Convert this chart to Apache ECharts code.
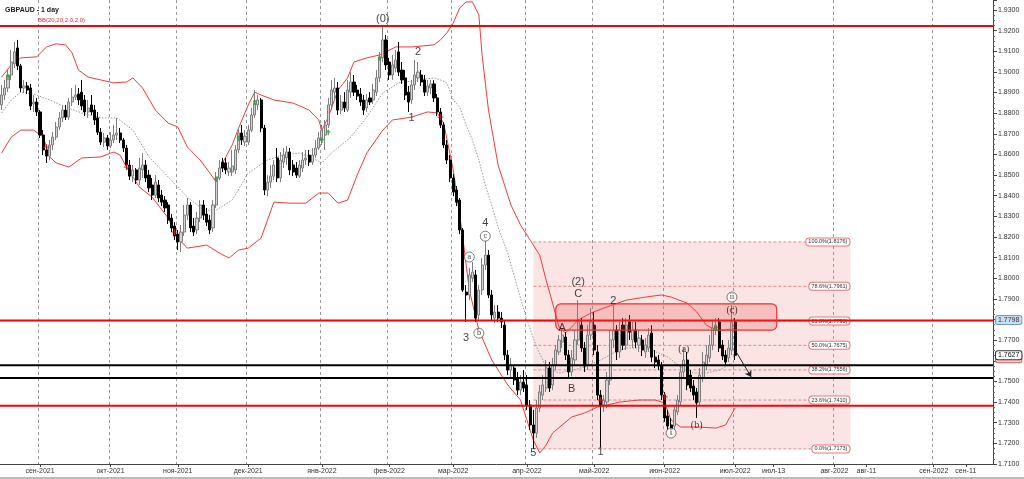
<!DOCTYPE html>
<html><head><meta charset="utf-8">
<script src="https://cdn.jsdelivr.net/npm/echarts@6/dist/echarts.min.js"></script>
<style>html,body{margin:0;padding:0;background:#fff}#c{width:1024px;height:479px}</style>
</head><body><div id="c"></div>
<script>
// ---------- DATA ----------
// daily candles from 2021-08-16 (trading days), [open, close, low, high]
const candles = [
[1.8840,1.8888,1.8815,1.8937],[1.8888,1.8922,1.8864,1.8961],[1.8922,1.8985,1.8902,1.9009],[1.8985,1.9048,1.8961,1.9106],[1.9039,1.9097,1.9019,1.9145],
[1.9116,1.9029,1.9009,1.9155],[1.9029,1.8922,1.8902,1.9039],[1.8922,1.8932,1.8898,1.8961],[1.8932,1.8912,1.8893,1.8951],[1.8922,1.8835,1.8815,1.8942],
[1.8845,1.8854,1.8806,1.8888],[1.8854,1.8806,1.8786,1.8874],[1.8806,1.8694,1.8680,1.8815],[1.8694,1.8622,1.8597,1.8718],[1.8622,1.8592,1.8559,1.8646],
[1.8592,1.8646,1.8573,1.8670],[1.8646,1.8684,1.8622,1.8708],[1.8684,1.8733,1.8670,1.8757],[1.8733,1.8777,1.8718,1.8806],[1.8777,1.8815,1.8757,1.8840],
[1.8815,1.8781,1.8767,1.8840],[1.8781,1.8854,1.8767,1.8874],[1.8854,1.8878,1.8835,1.8922],[1.8878,1.8888,1.8864,1.8937],[1.8893,1.8864,1.8840,1.8922],
[1.8902,1.8835,1.8815,1.8961],[1.8864,1.8806,1.8786,1.8888],[1.8806,1.8825,1.8777,1.8864],[1.8840,1.8806,1.8791,1.8888],[1.8815,1.8767,1.8743,1.8840],
[1.8777,1.8708,1.8694,1.8806],[1.8708,1.8660,1.8646,1.8728],[1.8660,1.8680,1.8636,1.8704],[1.8680,1.8641,1.8622,1.8694],[1.8641,1.8670,1.8631,1.8708],
[1.8670,1.8694,1.8655,1.8743],[1.8694,1.8704,1.8670,1.8777],[1.8704,1.8670,1.8655,1.8728],[1.8670,1.8631,1.8612,1.8680],[1.8631,1.8549,1.8525,1.8646],
[1.8549,1.8495,1.8476,1.8573],[1.8495,1.8525,1.8466,1.8549],[1.8525,1.8476,1.8457,1.8534],[1.8476,1.8534,1.8452,1.8583],[1.8525,1.8549,1.8486,1.8607],
[1.8549,1.8486,1.8466,1.8573],[1.8500,1.8438,1.8418,1.8525],[1.8452,1.8403,1.8379,1.8486],[1.8403,1.8466,1.8389,1.8500],[1.8452,1.8389,1.8369,1.8476],
[1.8403,1.8369,1.8350,1.8428],[1.8379,1.8341,1.8321,1.8398],[1.8355,1.8282,1.8263,1.8369],[1.8292,1.8244,1.8224,1.8311],[1.8253,1.8205,1.8185,1.8272],
[1.8214,1.8176,1.8137,1.8234],[1.8176,1.8224,1.8127,1.8258],[1.8224,1.8306,1.8205,1.8355],[1.8306,1.8355,1.8282,1.8389],[1.8355,1.8244,1.8224,1.8369],
[1.8253,1.8224,1.8205,1.8292],[1.8234,1.8292,1.8214,1.8321],[1.8292,1.8355,1.8272,1.8379],[1.8355,1.8306,1.8282,1.8379],[1.8311,1.8272,1.8253,1.8341],
[1.8282,1.8234,1.8214,1.8306],[1.8244,1.8355,1.8224,1.8379],[1.8355,1.8486,1.8341,1.8515],[1.8486,1.8534,1.8476,1.8573],[1.8563,1.8534,1.8515,1.8583],
[1.8559,1.8525,1.8505,1.8583],[1.8515,1.8534,1.8495,1.8563],[1.8515,1.8544,1.8495,1.8622],[1.8525,1.8622,1.8505,1.8646],[1.8622,1.8704,1.8607,1.8728],
[1.8704,1.8670,1.8646,1.8743],[1.8660,1.8689,1.8641,1.8718],[1.8660,1.8718,1.8646,1.8743],[1.8718,1.8791,1.8708,1.8825],[1.8791,1.8849,1.8777,1.8912],
[1.8840,1.8864,1.8815,1.8888],[1.8864,1.8728,1.8708,1.8874],[1.8728,1.8428,1.8403,1.8743],[1.8428,1.8466,1.8398,1.8500],[1.8466,1.8495,1.8438,1.8549],
[1.8495,1.8549,1.8476,1.8573],[1.8583,1.8486,1.8466,1.8631],[1.8486,1.8573,1.8466,1.8612],[1.8563,1.8597,1.8534,1.8631],[1.8583,1.8612,1.8549,1.8641],
[1.8612,1.8525,1.8500,1.8631],[1.8549,1.8515,1.8495,1.8573],[1.8534,1.8500,1.8486,1.8563],[1.8495,1.8549,1.8486,1.8573],[1.8534,1.8573,1.8515,1.8612],
[1.8573,1.8583,1.8549,1.8622],[1.8597,1.8563,1.8544,1.8622],[1.8563,1.8597,1.8549,1.8631],[1.8597,1.8631,1.8583,1.8670],[1.8631,1.8680,1.8622,1.8708],
[1.8670,1.8718,1.8646,1.8743],[1.8694,1.8743,1.8622,1.8767],[1.8743,1.8840,1.8728,1.8874],[1.8840,1.8912,1.8815,1.8961],[1.8902,1.8922,1.8864,1.8971],
[1.8922,1.8815,1.8791,1.8951],[1.8815,1.8854,1.8796,1.8888],[1.8854,1.8825,1.8806,1.8902],[1.8815,1.8912,1.8806,1.8961],[1.8902,1.8951,1.8874,1.8999],
[1.8951,1.8902,1.8883,1.8985],[1.8912,1.8883,1.8864,1.8937],[1.8893,1.8854,1.8835,1.8922],[1.8864,1.8815,1.8791,1.8888],[1.8825,1.8864,1.8806,1.8893],
[1.8874,1.8854,1.8840,1.8902],[1.8864,1.8912,1.8845,1.8942],[1.8902,1.8971,1.8883,1.9009],[1.8971,1.9068,1.8951,1.9097],[1.9068,1.9155,1.9048,1.9217],
[1.9155,1.9034,1.9009,1.9179],[1.9048,1.8985,1.8961,1.9068],[1.8985,1.9034,1.8961,1.9082],[1.9019,1.9058,1.8999,1.9106],[1.9097,1.8999,1.8980,1.9145],
[1.9009,1.8961,1.8942,1.9048],[1.8971,1.8888,1.8864,1.9009],[1.8902,1.8854,1.8806,1.8932],[1.8864,1.8937,1.8845,1.8961],[1.8937,1.8985,1.8912,1.9058],
[1.8971,1.8999,1.8951,1.9048],[1.8985,1.8951,1.8932,1.9009],[1.8961,1.8902,1.8883,1.8985],[1.8902,1.8932,1.8883,1.8961],[1.8922,1.8942,1.8893,1.8961],
[1.8942,1.8874,1.8854,1.8961],[1.8874,1.8806,1.8786,1.8893],[1.8806,1.8743,1.8728,1.8825],[1.8743,1.8646,1.8631,1.8757],[1.8646,1.8573,1.8554,1.8670],
[1.8573,1.8486,1.8466,1.8597],[1.8486,1.8418,1.8398,1.8505],[1.8428,1.8369,1.8350,1.8447],[1.8379,1.8234,1.8214,1.8389],[1.8234,1.7943,1.7933,1.8244],
[1.7933,1.7919,1.7788,1.7967],[1.7919,1.8016,1.7894,1.8050],[1.8001,1.8030,1.7982,1.8079],[1.8016,1.7807,1.7788,1.8040],[1.7822,1.7943,1.7798,1.7967],
[1.7943,1.8064,1.7919,1.8098],[1.8064,1.8112,1.8040,1.8185],[1.8112,1.7919,1.7904,1.8137],[1.7919,1.7822,1.7798,1.7943],[1.7807,1.7836,1.7783,1.7870],
[1.7836,1.7807,1.7788,1.7870],[1.7807,1.7788,1.7759,1.7836],[1.7773,1.7628,1.7604,1.7798],[1.7628,1.7555,1.7531,1.7652],[1.7555,1.7580,1.7516,1.7614],
[1.7565,1.7507,1.7483,1.7580],[1.7516,1.7458,1.7434,1.7546],[1.7458,1.7497,1.7434,1.7531],[1.7497,1.7468,1.7449,1.7555],[1.7483,1.7386,1.7362,1.7531],
[1.7386,1.7289,1.7265,1.7410],[1.7289,1.7250,1.7173,1.7362],[1.7250,1.7371,1.7226,1.7410],[1.7371,1.7449,1.7352,1.7483],[1.7434,1.7483,1.7410,1.7531],
[1.7468,1.7565,1.7449,1.7604],[1.7565,1.7468,1.7449,1.7594],[1.7483,1.7580,1.7458,1.7614],[1.7580,1.7652,1.7555,1.7676],[1.7643,1.7701,1.7628,1.7725],
[1.7691,1.7725,1.7662,1.7759],[1.7715,1.7628,1.7604,1.7739],[1.7628,1.7546,1.7516,1.7652],[1.7546,1.7614,1.7526,1.7652],[1.7604,1.7701,1.7580,1.7749],
[1.7701,1.7788,1.7676,1.7894],[1.7773,1.7662,1.7643,1.7807],[1.7662,1.7575,1.7546,1.7691],[1.7580,1.7725,1.7555,1.7773],[1.7725,1.7788,1.7701,1.7856],
[1.7773,1.7652,1.7628,1.7836],[1.7643,1.7434,1.7410,1.7676],[1.7434,1.7386,1.7182,1.7458],[1.7386,1.7410,1.7352,1.7434],[1.7400,1.7507,1.7371,1.7546],
[1.7507,1.7701,1.7483,1.7749],[1.7701,1.7749,1.7662,1.7870],[1.7749,1.7643,1.7604,1.7773],[1.7643,1.7749,1.7614,1.7788],[1.7773,1.7676,1.7652,1.7807],
[1.7676,1.7773,1.7652,1.7807],[1.7788,1.7739,1.7701,1.7822],[1.7701,1.7749,1.7662,1.7788],[1.7749,1.7691,1.7662,1.7788],[1.7676,1.7710,1.7643,1.7749],
[1.7701,1.7652,1.7623,1.7725],[1.7643,1.7676,1.7614,1.7710],[1.7662,1.7725,1.7643,1.7759],[1.7734,1.7618,1.7594,1.7773],[1.7618,1.7594,1.7565,1.7652],
[1.7604,1.7575,1.7555,1.7628],[1.7575,1.7434,1.7410,1.7594],[1.7434,1.7323,1.7304,1.7449],[1.7333,1.7284,1.7265,1.7362],[1.7289,1.7265,1.7245,1.7323],
[1.7284,1.7362,1.7265,1.7386],[1.7352,1.7410,1.7337,1.7434],[1.7400,1.7546,1.7386,1.7580],[1.7546,1.7604,1.7516,1.7662],[1.7604,1.7483,1.7458,1.7643],
[1.7531,1.7468,1.7449,1.7555],[1.7478,1.7434,1.7410,1.7507],[1.7449,1.7396,1.7323,1.7468],[1.7400,1.7531,1.7386,1.7565],[1.7516,1.7594,1.7497,1.7643],
[1.7580,1.7628,1.7555,1.7676],[1.7614,1.7676,1.7594,1.7725],[1.7676,1.7759,1.7652,1.7798],[1.7749,1.7773,1.7725,1.7807],[1.7788,1.7662,1.7643,1.7807],
[1.7676,1.7623,1.7604,1.7701],[1.7628,1.7594,1.7575,1.7652],[1.7614,1.7662,1.7594,1.7701],[1.7652,1.7788,1.7628,1.7870],[1.7788,1.7627,1.7604,1.7807]
];

// Bollinger band readings: [bar index, value]
const bbUpper = [[0,1.8975],[3,1.9034],[6,1.9068],[11,1.9073],[14,1.9121],[17,1.9136],[20,1.9131],[22,1.9092],[24,1.9009],[27,1.8975],[31,1.8961],[35,1.8947],[39,1.8951],[41,1.8971],[44,1.8922],[48,1.8815],[52,1.8752],[55,1.8733],[58,1.8636],[62,1.8573],[65,1.8510],[67,1.8466],[69,1.8559],[72,1.8646],[74,1.8728],[77,1.8840],[79,1.8902],[81,1.8888],[85,1.8864],[91,1.8849],[96,1.8815],[99,1.8767],[100,1.8718],[102,1.8781],[105,1.8912],[108,1.8971],[110,1.9048],[114,1.9068],[118,1.9082],[120,1.9097],[123,1.9121],[128,1.9121],[135,1.9131],[137,1.9155],[139,1.9189],[141,1.9237],[143,1.9310],[145,1.9339],[147,1.9339],[149,1.9276],[150,1.9082],[152,1.8815],[155,1.8549],[159,1.8355],[162,1.8258],[165,1.8185],[168,1.8112],[170,1.7991],[172,1.7880],[174,1.7764],[176,1.7735],[178,1.7764],[180,1.7798],[184,1.7832],[189,1.7861],[195,1.7894],[201,1.7909],[206,1.7919],[209,1.7909],[214,1.7880],[217,1.7837],[220,1.7773],[223,1.7749],[226,1.7749],[229,1.7759]];
const bbMiddle = [[0,1.8801],[3,1.8864],[6,1.8902],[10,1.8893],[15,1.8864],[20,1.8830],[25,1.8801],[31,1.8777],[36,1.8777],[41,1.8718],[46,1.8588],[52,1.8491],[58,1.8393],[62,1.8345],[66,1.8321],[72,1.8379],[77,1.8510],[83,1.8573],[88,1.8597],[93,1.8607],[97,1.8583],[100,1.8559],[103,1.8607],[109,1.8684],[114,1.8781],[119,1.8898],[124,1.8947],[130,1.8961],[135,1.8971],[137,1.8961],[139,1.8947],[141,1.8864],[143,1.8830],[145,1.8743],[147,1.8670],[149,1.8573],[151,1.8452],[153,1.8355],[155,1.8248],[158,1.8122],[161,1.7957],[164,1.7798],[167,1.7667],[170,1.7570],[174,1.7541],[178,1.7555],[182,1.7570],[187,1.7604],[191,1.7638],[195,1.7662],[199,1.7662],[203,1.7652],[208,1.7618],[212,1.7570],[216,1.7541],[220,1.7541],[224,1.7555],[228,1.7589]];
const bbLower = [[0,1.8607],[3,1.8684],[6,1.8718],[10,1.8718],[13,1.8684],[15,1.8588],[17,1.8559],[21,1.8539],[25,1.8583],[31,1.8588],[35,1.8612],[37,1.8597],[39,1.8539],[43,1.8442],[47,1.8393],[52,1.8292],[55,1.8195],[58,1.8146],[64,1.8161],[68,1.8122],[71,1.8098],[74,1.8137],[77,1.8146],[81,1.8195],[85,1.8369],[90,1.8364],[95,1.8364],[99,1.8413],[102,1.8413],[105,1.8364],[108,1.8379],[111,1.8500],[114,1.8607],[119,1.8718],[122,1.8767],[128,1.8781],[133,1.8806],[136,1.8801],[138,1.8752],[141,1.8525],[144,1.8195],[146,1.7943],[149,1.7749],[153,1.7604],[158,1.7483],[162,1.7410],[166,1.7216],[168,1.7153],[170,1.7192],[172,1.7250],[178,1.7328],[182,1.7347],[186,1.7376],[189,1.7386],[193,1.7400],[199,1.7410],[204,1.7410],[207,1.7396],[209,1.7313],[212,1.7279],[218,1.7279],[223,1.7274],[226,1.7289],[229,1.7371]];

// x-axis tick labels
const tickLabels = [['2021-09-01','сен-2021'],['2021-10-01','окт-2021'],['2021-11-01','ноя-2021'],['2021-12-01','дек-2021'],['2022-01-03','янв-2022'],['2022-02-01','фев-2022'],['2022-03-01','мар-2022'],['2022-04-01','апр-2022'],['2022-05-02','май-2022'],['2022-06-01','июн-2022'],['2022-07-01','июл-2022'],['2022-07-13','июл-13'],['2022-08-01','авг-2022'],['2022-08-11','авг-11'],['2022-09-01','сен-2022'],['2022-09-11','сен-11']];

// horizontal levels
const redLevels = [1.9222, 1.7795, 1.7382];
const blackLevels = [1.7578, 1.7517];
// Fibonacci retracement
const fibLevels = [[100.0,1.8176],[78.6,1.7961],[61.8,1.7793],[50.0,1.7675],[38.2,1.7556],[23.6,1.7410],[0.0,1.7173]];
const fibStart = '2022-04-05', fibEnd = '2022-08-06';
// resistance zone
const zoneStart = '2022-04-14', zoneEnd = '2022-07-14', zoneLow = 1.7749, zoneHigh = 1.7876;
// projection arrow [date, price]
const arrowFrom = ['2022-07-01', 1.7652], arrowTo = ['2022-07-06', 1.7522];
// price tags on right axis
const tagBlue = 1.7798, tagPink = 1.7613;
// wave labels [bar index, price, text]
const waveSans = [[119,1.9256,'(0)'],[130,1.9097,'2'],[128,1.8779,'1'],[145,1.7711,'3'],[151,1.8268,'4'],[166,1.7153,'5'],[175,1.7759,'A'],[178,1.7463,'B'],[180,1.7924,'C'],[180,1.7982,'(2)'],[191,1.7890,'2'],[187,1.7158,'1']];
const waveSerif = [[213,1.7657,'(a)'],[217,1.7289,'(b)'],[228,1.7846,'(c)']];
const waveCircled = [[146,1.8103,'a'],[149,1.7734,'b'],[151,1.8204,'c'],[209,1.7250,'i'],[228,1.7909,'ii']];
// band-touch markers [bar index, price]
const greenMarks = [[2,1.8975],[67,1.8481],[74,1.8680],[79,1.8854],[100,1.8670],[102,1.8708],[118,1.9068],[223,1.7759]];
const redMarks = [[14,1.8636],[39,1.8539],[54,1.8224],[137,1.8781],[187,1.7410],[207,1.7425]];

// ---------- CATEGORIES ----------
function fmt(d){ return d.toISOString().slice(0,10); }
const dates = [];
let d = new Date(Date.UTC(2021,7,16));
const lastBar = Date.UTC(2022,6,1);
while (d.getTime() <= lastBar) { const wd = d.getUTCDay(); if (wd !== 0 && wd !== 6) dates.push(fmt(d)); d = new Date(d.getTime()+86400000); }
while (dates.length < 310) { dates.push(fmt(d)); d = new Date(d.getTime()+86400000); }
const idx = s => dates.indexOf(s);
const labelMap = new Map(tickLabels);
const monthSet = new Set(tickLabels.filter(t => t[1].indexOf('-20') > 0).map(t => t[0]));
const lastClose = candles[candles.length-1][1];

const FONT = 'Liberation Sans';

function hLineSeries(levels, color, z){
  return { type:'custom', z:z, silent:true, data: levels.map(v => [0, v]), encode:{x:0, y:1},
    renderItem:(params, api) => { const cs = params.coordSys; const y = api.coord([0, api.value(1)])[1];
      return {type:'line', shape:{x1:cs.x, y1:y, x2:cs.x+cs.width, y2:y}, style:{stroke:color, lineWidth:2}}; } };
}
const tagStyles = [
  {fill:'#f6c8c8', stroke:'#dd6060', text:'#333'},
  {fill:'#c8ddf0', stroke:'#6f9cc4', text:'#333'},
  {fill:'#ffffff', stroke:'#333333', text:'#111'}
];
const tagValues = [tagPink, tagBlue, lastClose];

const option = {
  animation:false,
  textStyle:{fontFamily:FONT},
  title:[
    {text:'GBPAUD - 1 day', left:0, top:2, textStyle:{fontSize:7, fontWeight:'bold', color:'#222', fontFamily:FONT}},
    {text:'BB(20,20,2.0,2.0)', left:33, top:12, textStyle:{fontSize:6, fontWeight:'normal', color:'#e03030', fontFamily:FONT}}
  ],
  grid:{left:0, right:31, top:0, bottom:15, containLabel:false},
  xAxis:{
    type:'category', data:dates, boundaryGap:true,
    axisLine:{show:true, lineStyle:{color:'#444'}},
    axisTick:{show:true, alignWithLabel:true, length:3, interval:(i,v)=>labelMap.has(v), lineStyle:{color:'#444'}},
    axisLabel:{interval:(i,v)=>labelMap.has(v), formatter:v=>labelMap.get(v)||'', fontSize:7, color:'#333', margin:4, fontFamily:FONT},
    splitLine:{show:true, interval:(i,v)=>monthSet.has(v), lineStyle:{type:[3,3], color:'#9a9a9a', width:1}}
  },
  yAxis:{
    type:'value', position:'right', min:1.71, max:1.93485, interval:0.01,
    axisLine:{show:true, lineStyle:{color:'#444'}},
    axisTick:{show:true, length:4, lineStyle:{color:'#444'}},
    minorTick:{show:true, splitNumber:4, length:2, lineStyle:{color:'#666'}},
    axisLabel:{formatter:v=>v.toFixed(4), fontSize:7, color:'#333', showMaxLabel:false, margin:5, fontFamily:FONT},
    splitLine:{show:false}
  },
  series:[
    { // fib background
      type:'custom', z:1, silent:true, encode:{x:[0,1], y:[2,3]},
      data:[[idx(fibStart), idx(fibEnd), fibLevels[fibLevels.length-1][1], fibLevels[0][1]]],
      renderItem:(params, api) => { const a = api.coord([api.value(0), api.value(3)]); const b = api.coord([api.value(1), api.value(2)]);
        return {type:'rect', shape:{x:a[0], y:a[1], width:b[0]-a[0], height:b[1]-a[1]}, style:{fill:'rgba(230,120,120,0.2)'}}; }
    },
    { // fib level lines
      type:'custom', z:2, silent:true, encode:{x:[0,1], y:2},
      data: fibLevels.map(f => [idx(fibStart), idx(fibEnd), f[1]]),
      renderItem:(params, api) => { const lv = api.value(2); const a = api.coord([api.value(0), lv]); const b = api.coord([api.value(1), lv]);
        const f = fibLevels[params.dataIndex];
        return {type:'group', children:[
          {type:'line', shape:{x1:a[0], y1:a[1], x2:b[0], y2:b[1]}, style:{stroke:'#e48a8a', lineWidth:1, lineDash:[3,2]}},
          {type:'text', x:b[0]-1, y:a[1], z2:10, style:{text: f[0].toFixed(1)+'%('+f[1].toFixed(4)+')', fontSize:5.5, fontFamily:FONT, fill:'#333', align:'right', verticalAlign:'middle', backgroundColor:'#ffffff', borderColor:'#e07a7a', borderWidth:1, borderRadius:3, padding:[1,2,0,2]}}
        ]}; }
    },
    {type:'line', z:3, name:'upper', data:bbUpper.map(p=>[dates[p[0]], p[1]]), showSymbol:false, symbol:'none', clip:false, lineStyle:{color:'#f03a3a', width:1}, silent:true},
    {type:'line', z:3, name:'middle', data:bbMiddle.map(p=>[dates[p[0]], p[1]]), showSymbol:false, symbol:'none', lineStyle:{color:'#8c9c98', width:1, type:[1.5,1.5]}, silent:true},
    {type:'line', z:3, name:'lower', data:bbLower.map(p=>[dates[p[0]], p[1]]), showSymbol:false, symbol:'none', lineStyle:{color:'#f03a3a', width:1}, silent:true},
    {
      type:'candlestick', z:4, data:candles, barWidth:2.6,
      itemStyle:{color:'#d4d4d4', color0:'#000000', borderColor:'#7e7e7e', borderColor0:'#000000', borderWidth:1}
    },
    hLineSeries(blackLevels, '#000000', 5),
    hLineSeries(redLevels, '#ff0000', 5),
    { // resistance zone
      type:'custom', z:6, silent:true, encode:{x:[0,1], y:[2,3]},
      data:[[idx(zoneStart), idx(zoneEnd), zoneLow, zoneHigh]],
      renderItem:(params, api) => { const a = api.coord([api.value(0), api.value(3)]); const b = api.coord([api.value(1), api.value(2)]);
        return {type:'rect', shape:{x:a[0], y:a[1], width:b[0]-a[0], height:b[1]-a[1], r:5}, style:{fill:'rgba(235,80,80,0.26)', stroke:'#ee3030', lineWidth:1.2}}; }
    },
    {
      type:'lines', coordinateSystem:'cartesian2d', z:7, silent:true,
      data:[{coords:[[idx(arrowFrom[0]), arrowFrom[1]], [idx(arrowTo[0]), arrowTo[1]]]}],
      symbol:['none','arrow'], symbolSize:6, lineStyle:{color:'#222', width:1, opacity:1}
    },
    {
      type:'scatter', z:8, silent:true, symbol:'path://M5,0 L10,6 L6.5,6 L6.5,11 L3.5,11 L3.5,6 L0,6 Z', symbolSize:[5,6],
      itemStyle:{color:'#2e9b2e'}, data:greenMarks.map(p=>[dates[p[0]], p[1]])
    },
    {
      type:'scatter', z:8, silent:true, symbol:'path://M4,0h2v4h4v2h-4v4h-2v-4h-4v-2h4z', symbolSize:6,
      itemStyle:{color:'#d62020'}, data:redMarks.map(p=>[dates[p[0]], p[1]])
    },
    {
      type:'scatter', z:9, silent:true, symbolSize:1, itemStyle:{color:'rgba(0,0,0,0)'},
      data:waveSans.map(w=>({value:[dates[w[0]], w[1]], name:w[2]})),
      label:{show:true, position:'inside', formatter:'{b}', fontSize:11, color:'#111', fontFamily:FONT}
    },
    {
      type:'scatter', z:9, silent:true, symbolSize:1, itemStyle:{color:'rgba(0,0,0,0)'},
      data:waveSerif.map(w=>({value:[dates[w[0]], w[1]], name:w[2]})),
      label:{show:true, position:'inside', formatter:'{b}', fontSize:10, color:'#111', fontFamily:'Liberation Serif'}
    },
    {
      type:'scatter', z:9, silent:true, symbol:'circle', symbolSize:10,
      itemStyle:{color:'#ffffff', borderColor:'#333', borderWidth:0.8},
      data:waveCircled.map(w=>({value:[dates[w[0]], w[1]], name:w[2]})),
      label:{show:true, position:'inside', formatter:'{b}', fontSize:8, color:'#111', fontFamily:'Liberation Serif'}
    },
    { // price tags on the right axis
      type:'custom', z:10, silent:true, encode:{x:0, y:1},
      data: tagValues.map(v => [0, v]),
      renderItem:(params, api) => { const cs = params.coordSys; const y = api.coord([0, api.value(1)])[1]; const s = tagStyles[params.dataIndex];
        return {type:'text', x:cs.x+cs.width+3, y:y, style:{text: api.value(1).toFixed(4), fontSize:7, fontFamily:FONT, fill:s.text, align:'left', verticalAlign:'middle', backgroundColor:s.fill, borderColor:s.stroke, borderWidth:1, borderRadius:2, padding:[1,2,0,2]}}; }
    }
  ],
  graphic:[
    {type:'line', shape:{x1:0, y1:478, x2:1024, y2:478}, style:{stroke:'#777', lineWidth:1}}
  ]
};
const chart = echarts.init(document.getElementById('c'));
chart.setOption(option);
</script>
</body></html>
